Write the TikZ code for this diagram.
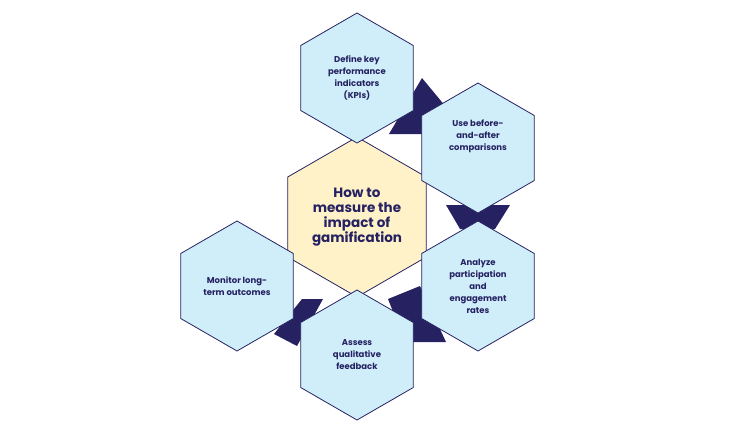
\documentclass[tikz,border=0pt]{standalone}
\usepackage{fontspec}
\setmainfont{Poppins}
\usetikzlibrary{shapes.geometric}
\definecolor{navy}{HTML}{262262}
\definecolor{hexblue}{HTML}{CFEEFA}
\definecolor{hexyel}{HTML}{FFF2C8}
\tikzset{
 hex/.style={regular polygon,regular polygon sides=6,shape border rotate=30,draw=navy,line width=0.8pt,fill=hexblue,inner sep=0pt,minimum size=130pt,text=navy,align=center,font=\fontsize{8.5}{12}\selectfont\bfseries},
 band/.style={fill=navy}
}
\begin{document}
\begin{tikzpicture}[x=1pt,y=-1pt]
\useasboundingbox (0,0) rectangle (731,432);
\fill[band] (422,78) -- (389,134) -- (430,134) -- (446,107) -- cycle;
\fill[band] (446,205) -- (510,205) -- (495,229) -- (460,229) -- cycle;
\fill[band] (420,286) -- (446,342) -- (405,342) -- (388,299) -- cycle;
\fill[band] (302,299) -- (323,299) -- (297,346) -- (274,334) -- cycle;
\node[hex,fill=hexyel,minimum size=160pt,font=\fontsize{13.5}{15}\selectfont\bfseries] (c) at (357,217) {How to\\measure the\\impact of\\gamification};
\node[hex] (d) at (357,78) {Define key\\performance\\indicators\\(KPIs)};
\node[hex] (u) at (478,148) {Use before-\\and-after\\comparisons\\[14pt]};
\node[hex] (a) at (478,286) {Analyze\\participation\\and\\engagement\\rates};
\node[hex] (s) at (357,355) {Assess\\qualitative\\feedback};
\node[hex] (m) at (237,286) {Monitor long-\\term outcomes};
\end{tikzpicture}
\end{document}
